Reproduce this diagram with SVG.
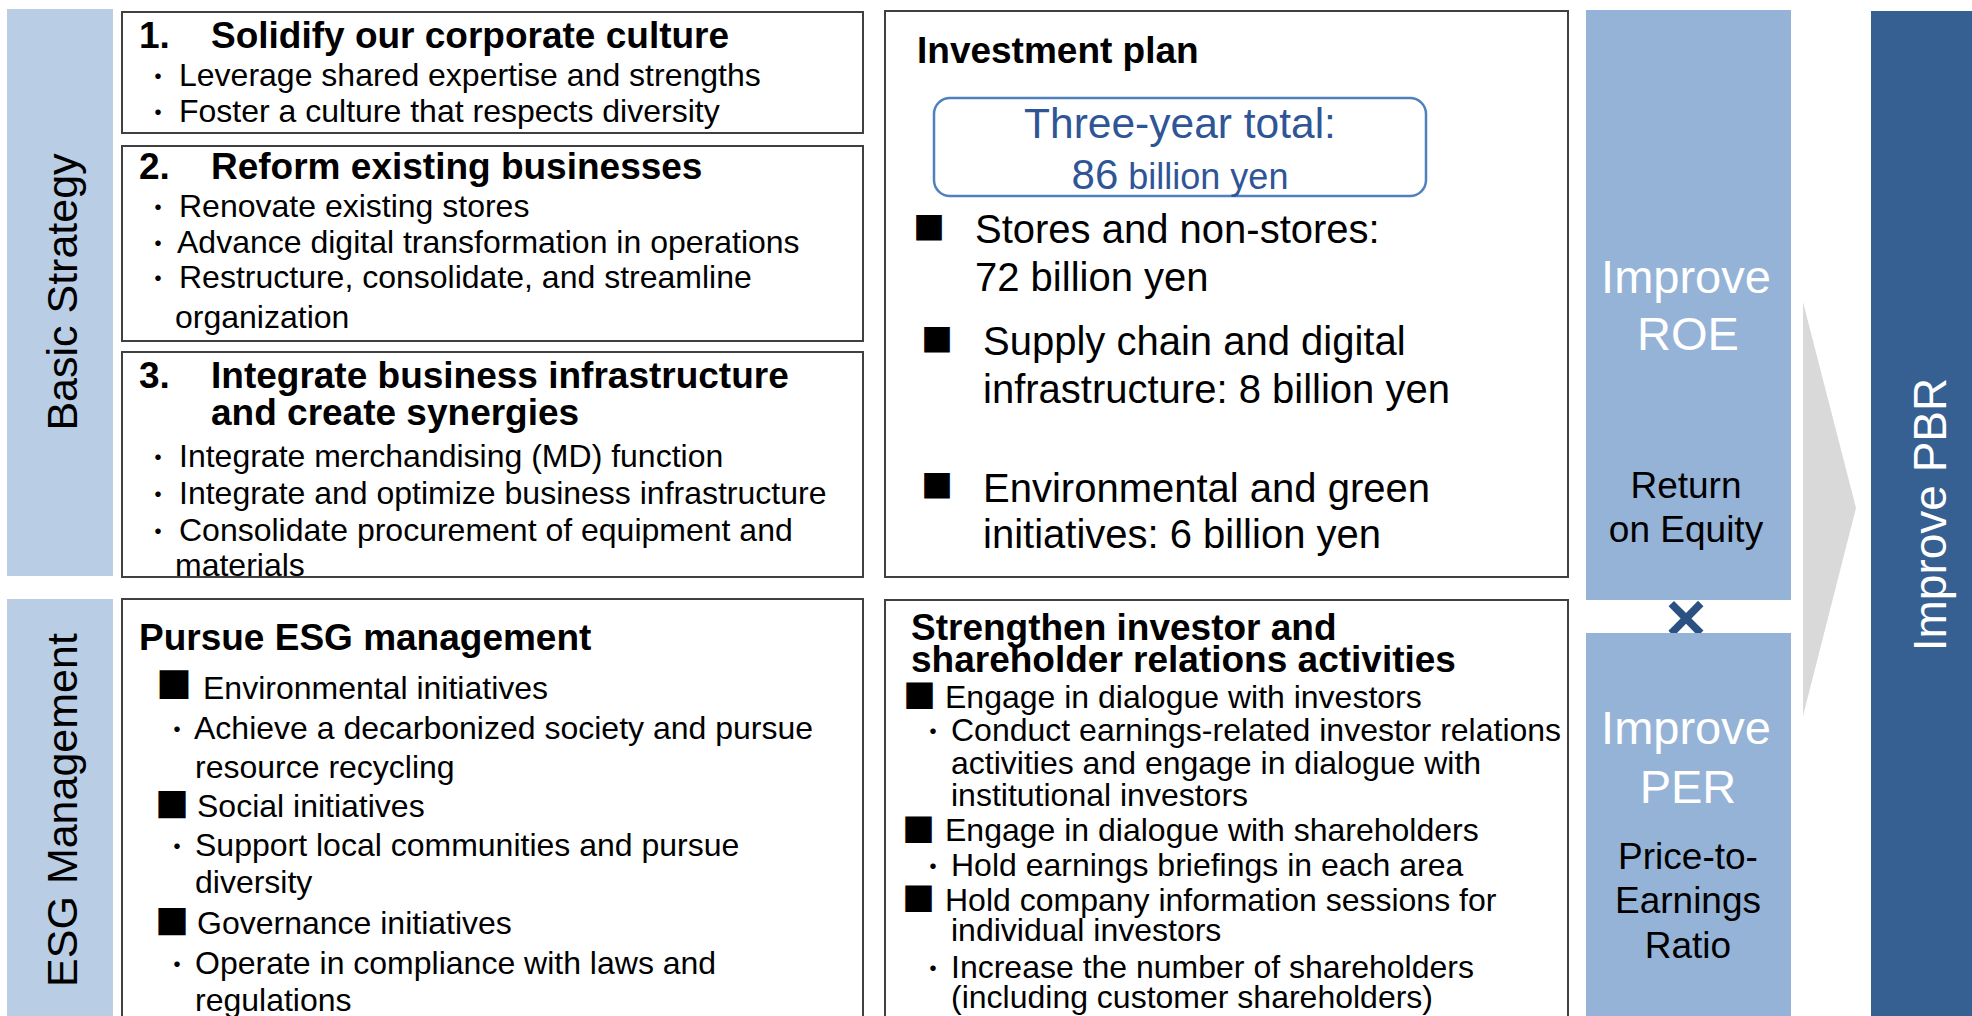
<svg xmlns="http://www.w3.org/2000/svg" width="1972" height="1016" viewBox="0 0 1972 1016">
<style>
text{font-family:"Liberation Sans",Arial,sans-serif;fill:#000}
.box{fill:#fff;stroke:#404040;stroke-width:2}
.side{fill:#B9CDE5}
.ttl{font-size:37px;font-weight:bold}
.b{font-size:32px}
.inv{font-size:40px}
.mk{font-family:"Noto Sans CJK JP","Noto Sans CJK SC",sans-serif;font-size:26px}
.sq{font-family:"Noto Sans CJK JP","Noto Sans CJK SC",sans-serif}
.vlab{font-size:43px;text-anchor:middle}
.kpi{fill:#95B3D7}
.wh{fill:#fff;font-size:47px;text-anchor:middle}
.sub{font-size:37px;text-anchor:middle}
</style>
<rect width="1972" height="1016" fill="#fff"/>

<g id="basic-strategy-label">
<rect class="side" x="7" y="9" width="106" height="567"/>
<text class="vlab" transform="translate(77,292) rotate(-90)">Basic Strategy</text>
</g>

<g id="esg-label">
<rect class="side" x="7" y="599" width="106" height="430"/>
<text class="vlab" transform="translate(77,810) rotate(-90)">ESG Management</text>
</g>

<g id="strategy-1">
<rect class="box" x="122" y="12" width="741" height="121"/>
<text class="ttl" y="48"><tspan x="139">1.</tspan><tspan x="211">Solidify our corporate culture</tspan></text>
<text class="b"><tspan class="mk" x="145" y="86">・</tspan><tspan x="179">Leverage shared expertise and strengths</tspan><tspan class="mk" x="145" y="122">・</tspan><tspan x="179">Foster a culture that respects diversity</tspan></text>
</g>

<g id="strategy-2">
<rect class="box" x="122" y="146" width="741" height="195"/>
<text class="ttl" y="179"><tspan x="139">2.</tspan><tspan x="211">Reform existing businesses</tspan></text>
<text class="b"><tspan class="mk" x="145" y="217">・</tspan><tspan x="179">Renovate existing stores</tspan><tspan class="mk" x="145" y="253">・</tspan><tspan x="177">Advance digital transformation in operations</tspan><tspan class="mk" x="145" y="288">・</tspan><tspan x="179">Restructure, consolidate, and streamline</tspan><tspan x="175" y="328">organization</tspan></text>
</g>

<g id="strategy-3">
<rect class="box" x="122" y="352" width="741" height="225"/>
<text class="ttl"><tspan x="139" y="388">3.</tspan><tspan x="211">Integrate business infrastructure</tspan><tspan x="211" y="425">and create synergies</tspan></text>
<text class="b"><tspan class="mk" x="145" y="467">・</tspan><tspan x="179">Integrate merchandising (MD) function</tspan><tspan class="mk" x="145" y="504">・</tspan><tspan x="179">Integrate and optimize business infrastructure</tspan><tspan class="mk" x="145" y="541">・</tspan><tspan x="179">Consolidate procurement of equipment and</tspan><tspan x="175" y="576">materials</tspan></text>
</g>

<g id="esg-management">
<rect class="box" x="122" y="599" width="741" height="430"/>
<text class="ttl" x="139" y="650">Pursue ESG management</text>
<text class="b"><tspan class="sq" x="156" y="699" style="font-size:36px">■</tspan><tspan x="203">Environmental initiatives</tspan><tspan class="mk" x="164" y="739">・</tspan><tspan x="194">Achieve a decarbonized society and pursue</tspan><tspan x="195" y="778">resource recycling</tspan></text>
<text class="b"><tspan class="sq" x="155" y="818" style="font-size:34px">■</tspan><tspan x="197" y="817">Social initiatives</tspan><tspan class="mk" x="164" y="856">・</tspan><tspan x="195">Support local communities and pursue</tspan><tspan x="195" y="893">diversity</tspan></text>
<text class="b"><tspan class="sq" x="155" y="935" style="font-size:34px">■</tspan><tspan x="197" y="934">Governance initiatives</tspan><tspan class="mk" x="164" y="974">・</tspan><tspan x="195">Operate in compliance with laws and</tspan><tspan x="195" y="1011">regulations</tspan></text>
</g>

<g id="investment-plan">
<rect class="box" x="885" y="11" width="683" height="566"/>
<text class="ttl" x="917" y="63">Investment plan</text>
<rect x="934" y="98" width="492" height="98" rx="16" fill="#fff" stroke="#4F81BD" stroke-width="2.5"/>
<text text-anchor="middle" style="fill:#2F5597"><tspan x="1180" y="138" font-size="42.5">Three-year total:</tspan><tspan x="1180" y="189"><tspan font-size="42">86</tspan><tspan font-size="36"> billion yen</tspan></tspan></text>
<text class="inv"><tspan class="sq" x="913" y="240" style="font-size:32px">■</tspan><tspan x="975" y="243">Stores and non-stores:</tspan><tspan x="975" y="291">72 billion yen</tspan></text>
<text class="inv"><tspan class="sq" x="921" y="352" style="font-size:32px">■</tspan><tspan x="983" y="355">Supply chain and digital</tspan><tspan x="983" y="403">infrastructure: 8 billion yen</tspan></text>
<text class="inv"><tspan class="sq" x="921" y="498" style="font-size:32px">■</tspan><tspan x="983" y="502">Environmental and green</tspan><tspan x="983" y="548">initiatives: 6 billion yen</tspan></text>
</g>

<g id="ir-activities">
<rect class="box" x="885" y="600" width="683" height="430"/>
<text class="ttl"><tspan x="911" y="640">Strengthen investor and</tspan><tspan x="911" y="672">shareholder relations activities</tspan></text>
<text class="b"><tspan class="sq" x="903" y="708" style="font-size:33px">■</tspan><tspan x="945">Engage in dialogue with investors</tspan><tspan class="mk" x="920" y="741">・</tspan><tspan x="951">Conduct earnings-related investor relations</tspan><tspan x="951" y="774">activities and engage in dialogue with</tspan><tspan x="951" y="806">institutional investors</tspan></text>
<text class="b"><tspan class="sq" x="902" y="842" style="font-size:33px">■</tspan><tspan x="945" y="841">Engage in dialogue with shareholders</tspan><tspan class="mk" x="920" y="876">・</tspan><tspan x="951">Hold earnings briefings in each area</tspan></text>
<text class="b"><tspan class="sq" x="902" y="911" style="font-size:33px">■</tspan><tspan x="945">Hold company information sessions for</tspan><tspan x="951" y="941">individual investors</tspan><tspan class="mk" x="920" y="978">・</tspan><tspan x="951">Increase the number of shareholders</tspan><tspan x="951" y="1008">(including customer shareholders)</tspan></text>
</g>

<g id="improve-roe">
<rect class="kpi" x="1586" y="10" width="205" height="590"/>
<text class="wh"><tspan x="1686" y="293">Improve</tspan><tspan x="1688" y="350">ROE</tspan></text>
<text class="sub"><tspan x="1686" y="498">Return</tspan><tspan x="1686" y="542">on Equity</tspan></text>
</g>

<g id="times-sign">
<text x="1686" y="642" font-size="70" font-weight="bold" text-anchor="middle" style="fill:#2B5082">×</text>
</g>

<g id="improve-per">
<rect class="kpi" x="1586" y="633" width="205" height="400"/>
<text class="wh"><tspan x="1686" y="744">Improve</tspan><tspan x="1688" y="803">PER</tspan></text>
<text class="sub"><tspan x="1688" y="869">Price-to-</tspan><tspan x="1688" y="913">Earnings</tspan><tspan x="1688" y="958">Ratio</tspan></text>
</g>

<g id="connectors">
<polygon points="1803,302 1856,508 1803,716" fill="#D9D9D9"/>
</g>

<g id="improve-pbr">
<rect x="1871" y="11" width="110" height="1020" fill="#376092"/>
<text transform="translate(1946,514.5) rotate(-90)" font-size="46" text-anchor="middle" style="fill:#fff">Improve PBR</text>
</g>
</svg>
